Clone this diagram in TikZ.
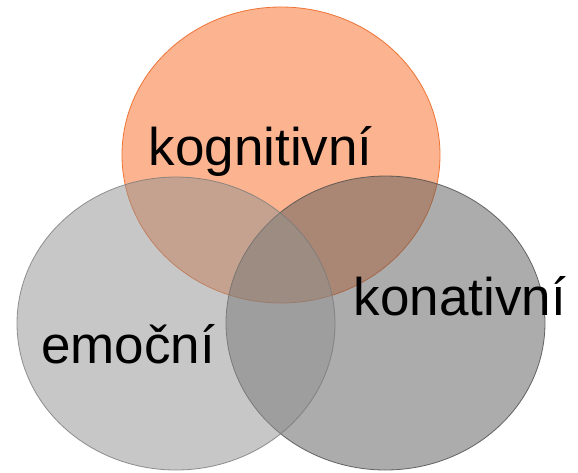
\documentclass[tikz,border=0pt]{standalone}
\usepackage{fontspec}
\setmainfont{Liberation Sans}
\definecolor{orfill}{HTML}{FBB48F}
\definecolor{ordraw}{HTML}{EE7436}
\definecolor{lgfill}{HTML}{919191}
\definecolor{lgdraw}{HTML}{7A7A7A}
\definecolor{rgfill}{HTML}{5B5B5B}
\definecolor{rgdraw}{HTML}{4A4A4A}
\begin{document}
\begin{tikzpicture}[x=1pt,y=-1pt,
  lbl/.style={anchor=base west,inner sep=0pt,font=\fontsize{53}{60}\selectfont}]
\useasboundingbox (0,0) rectangle (578,472);
\fill[white] (0,0) rectangle (578,472);
\draw[fill=orfill,draw=ordraw,line width=0.8pt] (281,155) ellipse [x radius=159,y radius=148];
\draw[fill=rgfill,fill opacity=0.5,draw=rgdraw,draw opacity=0.8,line width=0.8pt] (385.5,323) ellipse [x radius=159.5,y radius=147];
\draw[fill=lgfill,fill opacity=0.5,draw=lgdraw,draw opacity=0.8,line width=0.8pt] (176,323.5) ellipse [x radius=159,y radius=146.5];
\node[lbl] (kog) at (148.5,165) {kognitivní};
\node[lbl] (kon) at (353.5,315) {konativní};
\node[lbl] (emo) at (41,363) {emoční};
\end{tikzpicture}
\end{document}
